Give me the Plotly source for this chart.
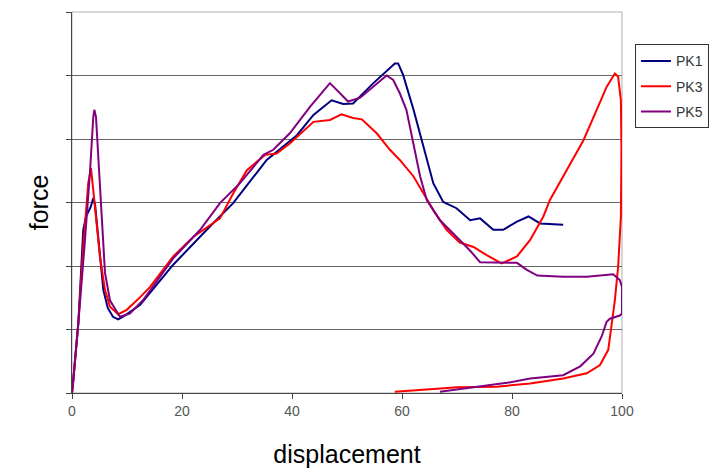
import plotly.graph_objects as go

# PK1 (blue)
pk1_x = [0, 0.24, 1.15, 2.05, 2.55, 3.4, 3.87, 4.2, 5.1, 5.7, 6.5, 7.45, 8.4, 9.45, 12.4, 18.4, 24.5, 29.3,
         35.4, 40.9, 43.9, 47.2, 49.3, 51.1, 54.8, 56.6, 58.7, 59.3, 60.2, 62.1, 63.9, 65.7, 67.5, 69.9,
         72.4, 74.2, 76.6, 78.4, 80.9, 83.0, 85.1, 89.3]
pk1_y = [0, 0.20, 1.10, 2.57, 2.78, 2.93, 3.07, 2.96, 2.16, 1.62, 1.34, 1.20, 1.16, 1.21, 1.39, 2.02, 2.57, 2.99,
         3.67, 4.06, 4.38, 4.61, 4.55, 4.56, 4.88, 5.03, 5.19, 5.19, 5.01, 4.46, 3.88, 3.30, 3.01, 2.91,
         2.72, 2.75, 2.57, 2.57, 2.70, 2.78, 2.67, 2.65]

# PK3 (red)
pk3_x = [0, 0.24, 1.15, 2.05, 2.96, 3.45, 3.87, 4.49, 5.09, 6.0, 6.9, 8.4, 9.95, 12.4, 14.2, 18.4, 22.1, 26.9,
         29.3, 31.8, 35.1, 37.2, 39.6, 43.9, 46.9, 49.0, 51.1, 52.7, 55.4, 57.8, 59.6, 62.1, 63.9, 65.7,
         68.1, 70.5, 73.0, 75.4, 78.1, 80.9, 83.3, 85.7, 86.9, 89.9, 93.0, 95.4, 97.2, 98.7, 99.3, 99.8,
         99.9, 99.8, 99.3, 98.7, 98.1, 97.5, 96.0, 93.6, 89.3, 83.3, 77.2, 70.0, 65.1, 58.7]
pk3_y = [0, 0.20, 1.10, 2.31, 3.31, 3.54, 3.19, 2.66, 2.14, 1.62, 1.36, 1.24, 1.31, 1.51, 1.67, 2.15, 2.46, 2.75,
         3.14, 3.51, 3.75, 3.77, 3.93, 4.27, 4.30, 4.39, 4.33, 4.31, 4.09, 3.83, 3.67, 3.41, 3.14, 2.88,
         2.57, 2.37, 2.30, 2.17, 2.04, 2.15, 2.41, 2.78, 3.04, 3.51, 3.98, 4.46, 4.82, 5.03, 4.98, 4.61,
         3.83, 2.78, 1.99, 1.46, 1.10, 0.68, 0.44, 0.31, 0.23, 0.15, 0.10, 0.09, 0.06, 0.02]

# PK5 (purple)
pk5_x = [0, 1.15, 2.36, 3.27, 3.87, 4.06, 4.36, 4.78, 5.4, 6.0, 6.9, 8.7, 10.5, 12.9, 18.4, 23.3, 26.9, 30.5,
         34.8, 36.6, 39.6, 43.3, 46.9, 48.7, 50.2, 52.4, 54.8, 57.2, 58.4, 59.6, 60.8, 62.0, 63.3, 64.5,
         66.9, 69.9, 72.4, 74.2, 78.1, 80.9, 82.7, 84.6, 89.3, 93.6, 98.4, 99.6, 100, 100, 99.6, 97.8,
         97.2, 96.3, 94.8, 92.4, 89.3, 86.3, 83.3, 79.1, 74.2, 66.9]
pk5_y = [0, 1.10, 2.41, 3.48, 4.35, 4.46, 4.35, 3.72, 2.67, 1.89, 1.46, 1.20, 1.25, 1.46, 2.12, 2.57, 2.99, 3.30,
         3.75, 3.83, 4.09, 4.51, 4.88, 4.72, 4.59, 4.65, 4.83, 5.00, 4.93, 4.72, 4.46, 3.93, 3.41, 3.04,
         2.72, 2.46, 2.24, 2.06, 2.05, 2.05, 1.94, 1.85, 1.83, 1.83, 1.87, 1.78, 1.67, 1.25, 1.22, 1.17,
         1.12, 0.89, 0.62, 0.42, 0.28, 0.26, 0.23, 0.16, 0.10, 0.02]

x_ticks = [0, 20, 40, 60, 80, 100]

fig = go.Figure()
fig.add_trace(go.Scatter(x=pk1_x, y=pk1_y, mode="lines", name="PK1", legendgroup="a",
                         line=dict(color="#000080", width=2)))
fig.add_trace(go.Scatter(x=pk3_x, y=pk3_y, mode="lines", name="PK3", legendgroup="b",
                         line=dict(color="#FF0000", width=2)))
fig.add_trace(go.Scatter(x=pk5_x, y=pk5_y, mode="lines", name="PK5", legendgroup="c",
                         line=dict(color="#800080", width=2)))

# page body has an 8px margin, so the figure is shrunk by 8px and margins shifted
fig.update_layout(
    width=709, height=465,
    margin=dict(l=64, r=95, t=4, b=80, autoexpand=False),
    paper_bgcolor="white", plot_bgcolor="white",
    font=dict(family="Liberation Sans, Arial, sans-serif", color="black"),
    showlegend=True,
    legend=dict(x=1.0236, y=0.915, xanchor="left", yanchor="top", tracegroupgap=4,
                itemwidth=30, bordercolor="#333333", borderwidth=1,
                font=dict(size=14, color="#333"), bgcolor="white"),
    shapes=[dict(type="rect", xref="paper", yref="paper", x0=0, y0=0, x1=1, y1=1,
                 line=dict(color="#b0b0b0", width=1), layer="below")],
)
fig.update_xaxes(range=[0, 100], tickvals=x_ticks, ticks="outside", ticklen=5, tickcolor="#444",
                 showline=True, linecolor="#444", linewidth=1, showgrid=False, zeroline=False,
                 automargin=False, tickfont=dict(size=14, color="#555"),
                 title=dict(text="displacement", font=dict(size=25, color="black"), standoff=27))
fig.update_yaxes(range=[0, 6], dtick=1, ticks="outside", ticklen=5, tickcolor="#444",
                 showline=True, linecolor="#444", linewidth=1, showgrid=True, gridcolor="#666",
                 gridwidth=1, zeroline=False, showticklabels=False, automargin=False,
                 title=dict(text="force", font=dict(size=25, color="black"), standoff=10))

fig.write_html("out.html")
